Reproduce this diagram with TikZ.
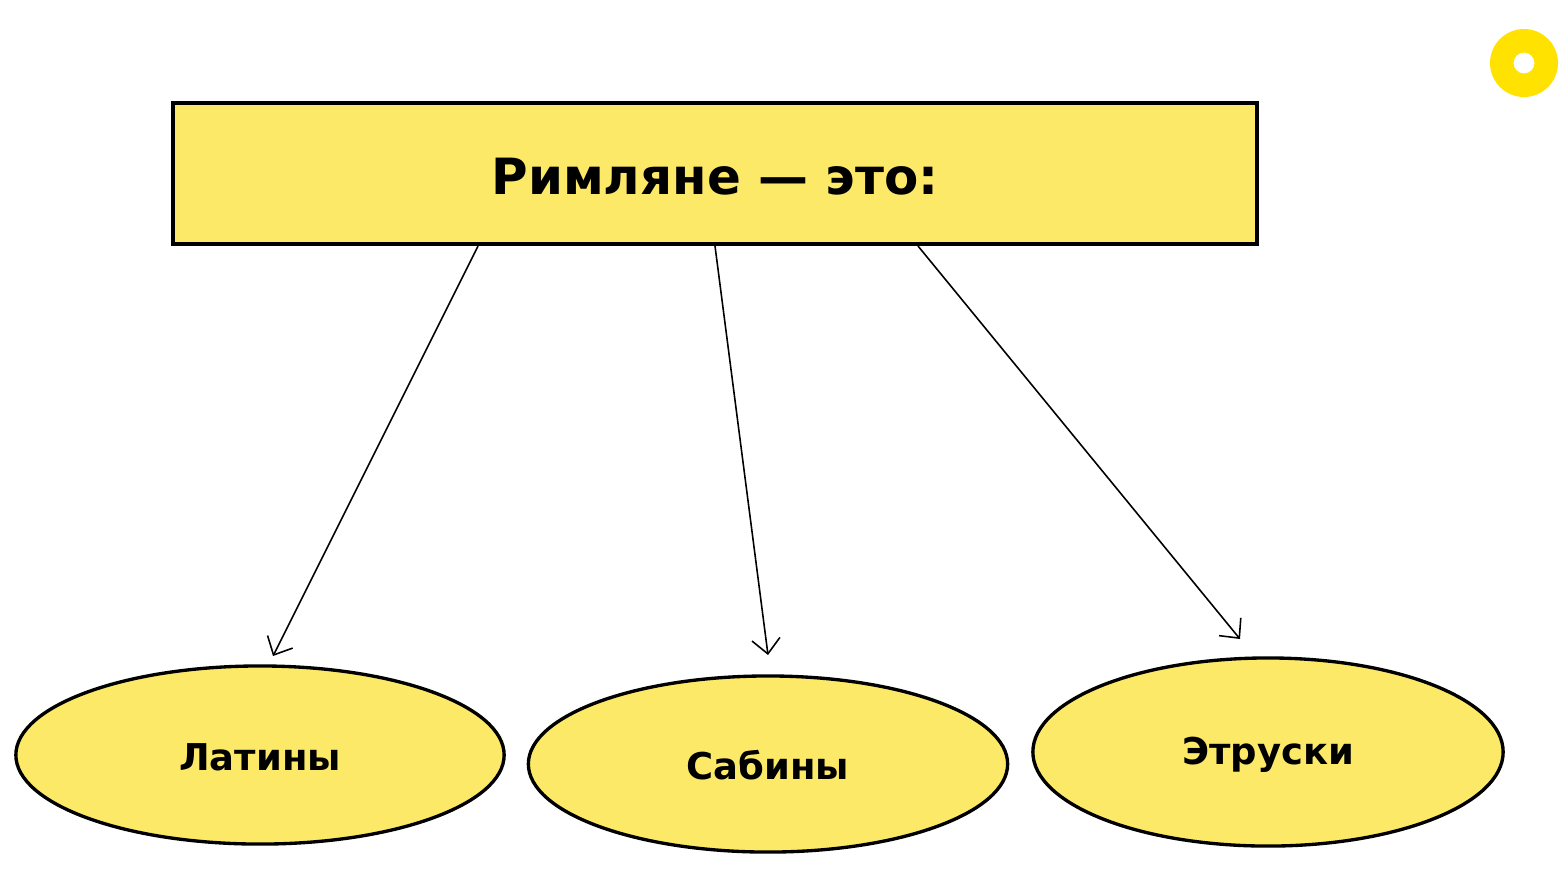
\documentclass[tikz,border=0pt]{standalone}
\usepackage{fontspec}
\setmainfont{DejaVu Sans}
\usetikzlibrary{shapes.geometric,arrows.meta}
\definecolor{boxfill}{HTML}{FDE968}
\definecolor{ringcol}{HTML}{FFE200}
\tikzset{
  px/.style={x=0.01cm,y=-0.01cm},
  titlebox/.style={draw=black,line width=0.9pt,fill=boxfill},
  groupell/.style={ellipse,draw=black,line width=0.95pt,fill=boxfill,inner sep=0pt},
  arr/.style={draw=black,line width=0.45pt,-{Straight Barb[length=4.2pt,width=8pt]}},
  titletext/.style={font=\bfseries\fontsize{14.2}{17}\selectfont},
  grouptext/.style={font=\bfseries\fontsize{10.5}{13}\selectfont}
}
\begin{document}
\begin{tikzpicture}[px]
\useasboundingbox (0,0) rectangle (1567,887);
\fill[white] (0,0) rectangle (1567,887);
% ring
\fill[ringcol,even odd rule] (1524,63) circle (34) (1524,63) circle (10.5);
% title box
\draw[titlebox] (173,103) rectangle (1257,244);
\node[titletext] (title) at (715,177) {Римляне — это:};
\coordinate (t1) at (478,246);
\coordinate (t2) at (715,246);
\coordinate (t3) at (918,246);
% ellipses
\node[groupell,minimum width=4.88cm,minimum height=1.78cm] (lat) at (260,755) {};
\node[groupell,minimum width=4.79cm,minimum height=1.76cm] (sab) at (768,764) {};
\node[groupell,minimum width=4.70cm,minimum height=1.88cm] (etr) at (1268,752) {};
\node[grouptext] (latt) at (260,757) {Латины};
\node[grouptext] (sabt) at (768,765) {Сабины};
\node[grouptext] (etrt) at (1268,755) {Этруски};
\coordinate (e1) at (273,656);
\coordinate (e2) at (768,655);
\coordinate (e3) at (1240,639);
\draw[arr] (t1) -- (e1);
\draw[arr] (t2) -- (e2);
\draw[arr] (t3) -- (e3);
\end{tikzpicture}
\end{document}
